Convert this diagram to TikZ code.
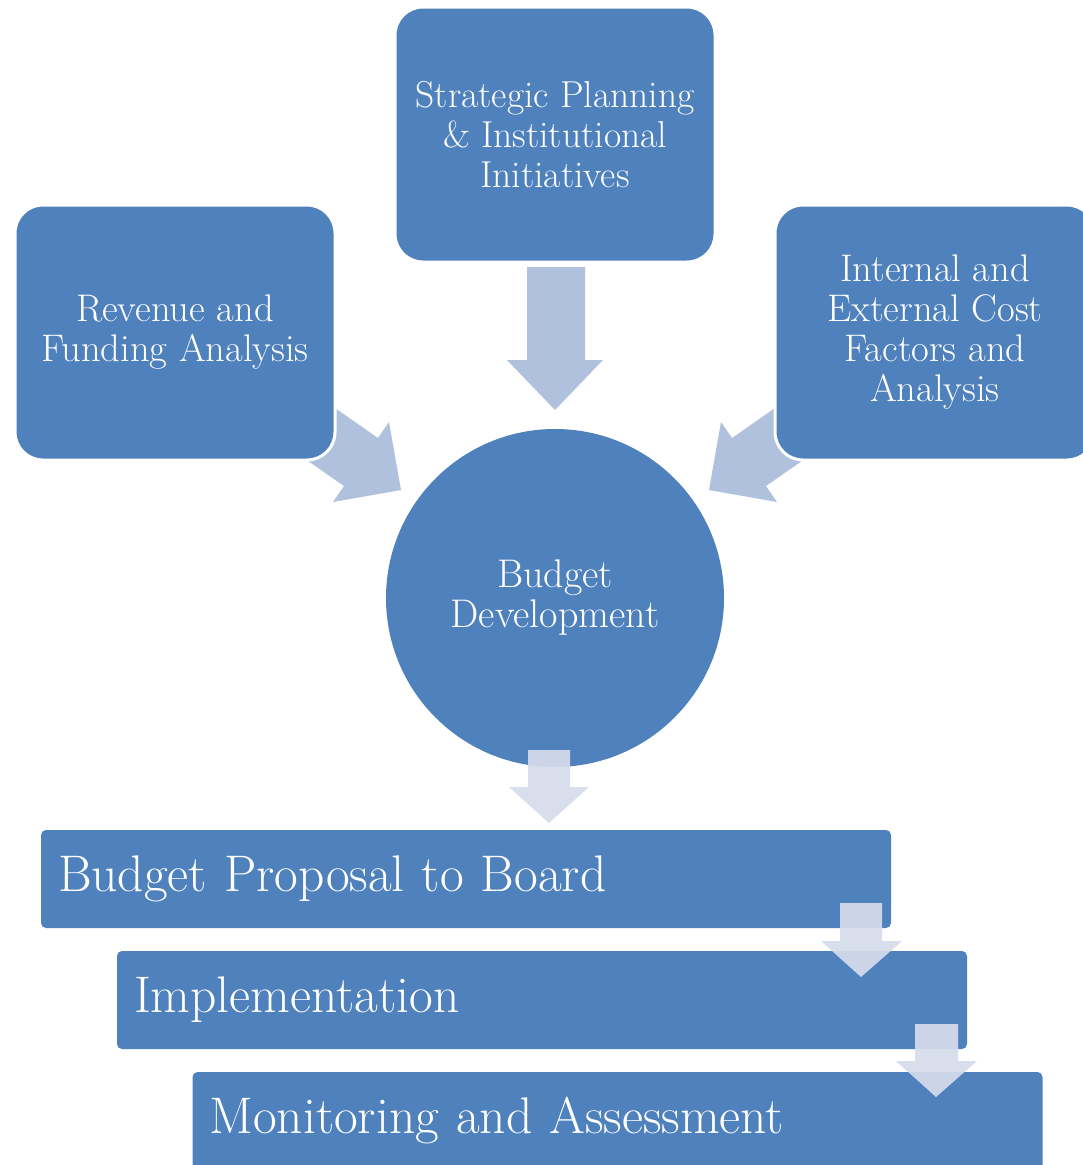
\documentclass[tikz,border=0pt]{standalone}
\usepackage{fontspec}
\usetikzlibrary{shapes.geometric}
\definecolor{boxblue}{RGB}{79,129,189}
\definecolor{arrowblue}{RGB}{176,193,221}
\definecolor{arrowpale}{RGB}{214,220,236}
\tikzset{
  topbox/.style={rectangle, rounded corners=28pt, fill=boxblue, draw=white,
    line width=3pt, text=white, align=center, inner sep=0pt,
    minimum width=320pt, minimum height=255pt,
    font=\fontsize{38.5}{40}\selectfont},
  hubcircle/.style={circle, fill=boxblue, text=white, align=center,
    inner sep=0pt, minimum size=338pt, font=\fontsize{40}{40}\selectfont},
  stagebox/.style={rectangle, rounded corners=5pt, fill=boxblue, text=white,
    inner xsep=17pt, inner ysep=0pt, text width=816pt, align=left,
    minimum height=98pt, font=\fontsize{51.5}{56}\selectfont},
  bigarrow/.style={fill=arrowblue, draw=none},
  palearrow/.style={fill=arrowpale, fill opacity=0.93, draw=none}
}
\begin{document}
\begin{tikzpicture}[x=1pt,y=-1pt]
\useasboundingbox (0,0) rectangle (1083,1165);
\clip (0,0) rectangle (1083,1165);
% block arrows into the hub
\fill[bigarrow] (527,267) -- (585,267) -- (585,360) -- (603,360) -- (555,410) -- (507,360) -- (527,360) -- cycle;
\fill[bigarrow] (325,401) -- (378,438) -- (389,422) -- (401,490) -- (333,502) -- (344,486) -- (298,454) -- cycle;
\fill[bigarrow] (785,401) -- (732,438) -- (721,422) -- (709,490) -- (777,502) -- (766,486) -- (812,454) -- cycle;
% source boxes
\node[topbox, font=\fontsize{37.5}{40}\selectfont] (strat) at (555,134.5) {Strategic Planning\\\& Institutional\\Initiatives};
\node[topbox] (rev) at (175,332.5) {Revenue and\\Funding Analysis};
\node[topbox] (cost) at (935,332.5) {Internal and\\External Cost\\Factors and\\Analysis};
% hub
\node[hubcircle] (budget) at (555,598) {Budget\\Development};
% stages
\node[stagebox] (board) at (466,879) {Budget Proposal to Board};
\node[stagebox] (impl) at (542,1000) {Implementation};
\node[stagebox] (monit) at (617.5,1121) {Monitoring and Assessment};
% pale down arrows
\fill[palearrow] (528,750) -- (570,750) -- (570,787) -- (589,787) -- (549,823) -- (509,787) -- (528,787) -- cycle;
\fill[palearrow] (840,903) -- (882,903) -- (882,941) -- (902,941) -- (861,977) -- (821,941) -- (840,941) -- cycle;
\fill[palearrow] (915,1024) -- (958,1024) -- (958,1061) -- (977,1061) -- (936,1097) -- (896,1061) -- (915,1061) -- cycle;
\end{tikzpicture}
\end{document}
